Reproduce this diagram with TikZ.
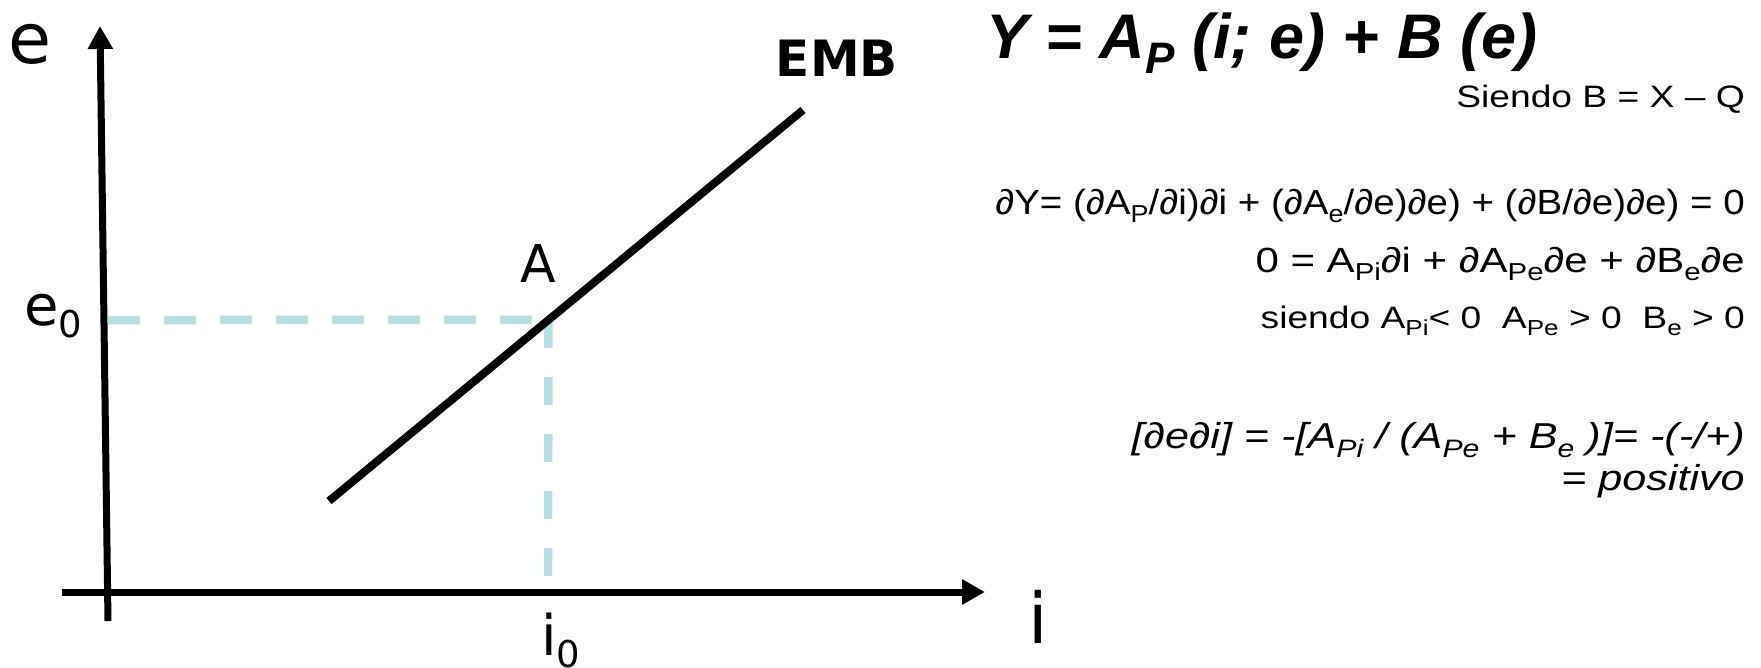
\documentclass[tikz,border=0pt]{standalone}
\usepackage{fontspec}
\usepackage{graphicx}
\setmainfont{Liberation Sans}
\newfontfamily\eqfont[FakeStretch=1.2]{Liberation Sans}
\newfontfamily\eqmidfont[FakeStretch=1.1]{Liberation Sans}
\newfontfamily\axfont{DejaVu Sans}
\usetikzlibrary{arrows.meta}
\definecolor{emb-guide}{HTML}{B7DEE2}
\newcommand{\dn}[1]{\raisebox{-0.25em}{\scalebox{0.7}{#1}}}
\newcommand{\lbldn}[1]{\raisebox{-0.22em}{\scalebox{0.66}{#1}}}

\begin{document}
\begin{tikzpicture}[
    x=1pt, y=-1pt,
    >={Triangle[length=23pt, width=24pt]},
    % Line styles for the EMB diagram
    axisstyle/.style={->, line width=7pt, black},
    curvestyle/.style={line width=8pt, black},
    guidestyle/.style={line width=8.5pt, emb-guide, dash pattern=on 32pt off 24pt},
    labelstyle/.style={inner sep=0pt, anchor=base, font=\axfont\fontsize{70}{70}\selectfont},
    ptstyle/.style={inner sep=0pt, anchor=base west, font=\axfont\fontsize{56}{56}\selectfont},
    eqstyle/.style={inner sep=0pt, anchor=base east, font=\eqfont\fontsize{31}{31}\selectfont}
  ]

  \useasboundingbox (0,0) rectangle (1761,667);

  % =========================================================================
  % AXES AND EMB SCHEDULE
  % =========================================================================
  \coordinate (ebot) at (108,621);
  \coordinate (etop) at (100,26);
  \coordinate (ileft) at (62,592);
  \coordinate (iright) at (985,592);
  \coordinate (embL) at (329,501);
  \coordinate (embR) at (803,110);
  \path (embL) -- (embR) coordinate[pos=0.463] (A);
  \coordinate (e0) at (108,320);
  \coordinate (i0) at (548,578);

  \draw[guidestyle] (e0) -- (A);
  \draw[guidestyle, dash pattern=on 28pt off 29pt] (A) -- (i0);

  \draw[axisstyle] (ebot) -- (etop);
  \draw[axisstyle] (ileft) -- (iright);
  \draw[curvestyle] (embL) -- (embR);

  \node[labelstyle] (lblE) at (30,63) {e};
  \node[labelstyle] (lblI) at (1038,643) {i};
  \node[ptstyle] (lblE0) at (24,325) {e\lbldn{0}};
  \node[ptstyle] (lblI0) at (541,655) {i\lbldn{0}};
  \node[labelstyle, font=\axfont\fontsize{52}{52}\selectfont] (lblA) at (538,282) {A};
  \node[labelstyle, font=\axfont\bfseries\fontsize{50}{50}\selectfont] (lblEMB) at (837,76) {EMB};

  % =========================================================================
  % EQUATIONS
  % =========================================================================
  \node[inner sep=0pt, anchor=base west, font=\bfseries\itshape\fontsize{63}{63}\selectfont] (title) at (986,58) {Y = A\dn{P} (i; e) + B (e)};
  \node[eqstyle] (siendoB) at (1745,107) {Siendo B = X – Q};
  \node[eqstyle, font=\eqmidfont\fontsize{35}{35}\selectfont] (dY) at (1745,214) {∂Y= (∂A\dn{P}/∂i)∂i + (∂A\dn{e}/∂e)∂e) + (∂B/∂e)∂e) = 0};
  \node[eqstyle, font=\eqfont\fontsize{35}{35}\selectfont] (zero) at (1745,272) {0 = A\dn{Pi}∂i + ∂A\dn{Pe}∂e + ∂B\dn{e}∂e};
  \node[eqstyle] (signs) at (1745,328) {siendo A\dn{Pi}< 0\ \ A\dn{Pe} > 0\ \ B\dn{e} > 0};
  \node[eqstyle, font=\eqfont\itshape\fontsize{36}{36}\selectfont] (slope) at (1745,448) {[∂e∂i] = -[A\dn{Pi} / (A\dn{Pe} + B\dn{e} )]= -(-/+)};
  \node[eqstyle, font=\eqfont\itshape\fontsize{36}{36}\selectfont] (positivo) at (1745,490) {= positivo};

\end{tikzpicture}
\end{document}
